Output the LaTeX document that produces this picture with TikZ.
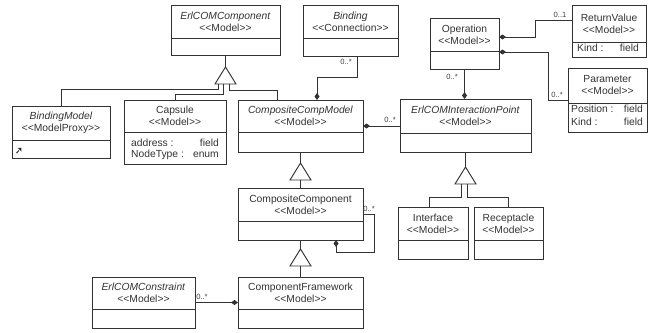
\documentclass[tikz,border=0pt]{standalone}
\usepackage{fontspec}
\setmainfont{Liberation Sans}
\usetikzlibrary{calc,arrows.meta}

% stereotype brackets, kept apart so they are not turned into guillemets
\newcommand\stereo[1]{<\kern0pt<#1>\kern0pt>}

\tikzset{
  umlline/.style={draw=black!80, line width=0.95pt},
  classbox/.style={umlline, fill=white, inner sep=0pt, outer sep=0pt},
  header/.style={align=center, inner sep=0pt, text=black!80,
                 font=\fontsize{10.3}{12}\selectfont},
  attr/.style={inner sep=0pt, text=black!80, font=\fontsize{10.3}{12}\selectfont},
  mult/.style={inner sep=0pt, text=black!75, font=\fontsize{7.6}{8}\selectfont},
  owned/.style={umlline, -{Diamond[length=7pt,width=5pt]}},
  owner/.style={umlline, {Diamond[length=7pt,width=5pt]}-},
  genhead/.style={umlline, fill=white, line join=miter},
}

% class box: name, x1, y1, x2, y2, separator y, header text
\newcommand\umlclass[7]{%
  \node[classbox, anchor=north west, minimum width={(#4)-(#2)},
        minimum height={(#5)-(#3)}] (#1) at (#2,#3) {};
  \coordinate (#1-sep) at (#2,#6);
  \draw[umlline] (#1-sep) -- (#1-sep -| #1.east);
  \node[header] (#1-title) at ($(#1.north)!0.5!(#1.north |- #1-sep)$) {#7};
}

% hollow generalization triangle with apex at the given coordinate
\newcommand\gentri[1]{%
  \draw[genhead] (#1) -- ++(-10.5,17) -- ++(21,0) -- cycle;
}

\begin{document}
\begin{tikzpicture}[x=1pt,y=-1pt]
\useasboundingbox (0,0) rectangle (653,332);

% ---- classes ----
\umlclass{ercomp}{171}{5}{280}{55}{38}{\textit{ErlCOMComponent}\\\stereo{Model}}
\umlclass{binding}{303}{5}{398}{56}{38}{\textit{Binding}\\\stereo{Connection}}
\umlclass{bindmodel}{12}{106}{110}{158}{140}{\textit{BindingModel}\\\stereo{ModelProxy}}
\umlclass{capsule}{124}{100}{226}{164}{132}{Capsule\\\stereo{Model}}
\umlclass{ccm}{238}{100}{363}{152}{132}{\textit{CompositeCompModel}\\\stereo{Model}}
\umlclass{cc}{238}{188}{363}{240}{221}{CompositeComponent\\\stereo{Model}}
\umlclass{cf}{238}{277}{363}{328}{309}{ComponentFramework\\\stereo{Model}}
\umlclass{constraint}{92}{277}{195}{328}{309}{\textit{ErlCOMConstraint}\\\stereo{Model}}
\umlclass{ip}{400}{99}{531}{152}{133}{\textit{ErlCOMInteractionPoint}\\\stereo{Model}}
\umlclass{op}{430}{18}{499}{69}{51}{Operation\\\stereo{Model}}
\umlclass{rv}{572}{5}{646}{57}{42}{ReturnValue\\\stereo{Model}}
\umlclass{par}{568}{68}{647}{132}{103}{Parameter\\\stereo{Model}}
\umlclass{iface}{398}{207}{468}{259}{240}{Interface\\\stereo{Model}}
\umlclass{rec}{474}{207}{543}{259}{240}{Receptacle\\\stereo{Model}}

% ---- attributes ----
\node[attr, anchor=west] (capsule-a1) at (131,143) {address :};
\node[attr, anchor=east] (capsule-t1) at (219,143) {field};
\node[attr, anchor=west] (capsule-a2) at (131,155) {NodeType :};
\node[attr, anchor=east] (capsule-t2) at (219,155) {enum};
\node[attr, anchor=west] (rv-a1) at (577,48) {Kind :};
\node[attr, anchor=east] (rv-t1) at (639,48) {field};
\node[attr, anchor=west] (par-a1) at (571,109) {Position :};
\node[attr, anchor=east] (par-t1) at (643,109) {field};
\node[attr, anchor=west] (par-a2) at (571,122) {Kind :};
\node[attr, anchor=east] (par-t2) at (643,122) {field};

% proxy link mark
\draw[black!85, line width=1pt] (16.5,153) -- (19,150.5);
\fill[black!85] (17.8,148) -- (21.5,147.8) -- (21.3,151.5) -- cycle;

% ---- generalization: ErlCOMComponent ----
\coordinate (g1) at (225.5,67);
\draw[umlline] (ercomp.south) -- (g1);
\gentri{g1}
\draw[umlline] ($(g1)+(-7.5,17)$) -- ++(0,5) -| (bindmodel.north);
\draw[umlline] ($(g1)+(-2.5,17)$) -- ++(0,10) -| (capsule.north);
\draw[umlline] ($(g1)+(3.5,17)$) -- ++(0,6) -| ([xshift=-23.5pt]ccm.north);

% ---- generalization: CompositeCompModel -> CompositeComponent ----
\coordinate (g2) at (300.5,163);
\draw[umlline] (ccm.south) -- (g2);
\gentri{g2}
\draw[umlline] ($(g2)+(0,17)$) -- (cc.north);

% ---- generalization: CompositeComponent -> ComponentFramework ----
\coordinate (g3) at (300.5,249);
\draw[umlline] (cc.south) -- (g3);
\gentri{g3}
\draw[umlline] ($(g3)+(0,17)$) -- (cf.north);

% ---- generalization: ErlCOMInteractionPoint ----
\coordinate (g4) at (465.5,167);
\draw[umlline] (ip.south) -- (g4);
\gentri{g4}
\draw[umlline] ($(g4)+(-4,17)$) -- ++(0,13) -| ([xshift=-4pt]iface.north);
\draw[umlline] ($(g4)+(2,17)$) -- ++(0,13) -| (rec.north);

% ---- compositions ----
\draw[owned] ([xshift=6.5pt]binding.south) -- ++(0,21) -| ([xshift=16.5pt]ccm.north);
\node[mult] (m-binding) at (346,62) {0..*};

\draw[owner] (ccm.east) -- (ccm.east -| ip.west);
\node[mult] (m-ip) at (390,120) {0..*};

\draw[owned] (op.south) -- (op.south |- ip.north);
\node[mult] (m-op) at (452,77) {0..*};

\coordinate (rvbend) at (535,20);
\draw[owner] ([yshift=6.5pt]op.east) -| (rvbend) -- (rvbend -| rv.west);
\node[mult] (m-rv) at (560,15) {0..1};

\coordinate (parbend) at (548,100);
\draw[owner] ([yshift=-8.5pt]op.east) -| (parbend) -- (parbend -| par.west);
\node[mult] (m-par) at (557,95) {0..*};

\draw[owned] (cc.east) -- ++(11,0) -- ++(0,38) -| ([xshift=35.5pt]cc.south);
\node[mult] (m-cc) at (369,209) {0..*};

\draw[owned] (constraint.east) -- (constraint.east -| cf.west);
\node[mult] (m-con) at (202,297) {0..*};

\end{tikzpicture}
\end{document}
